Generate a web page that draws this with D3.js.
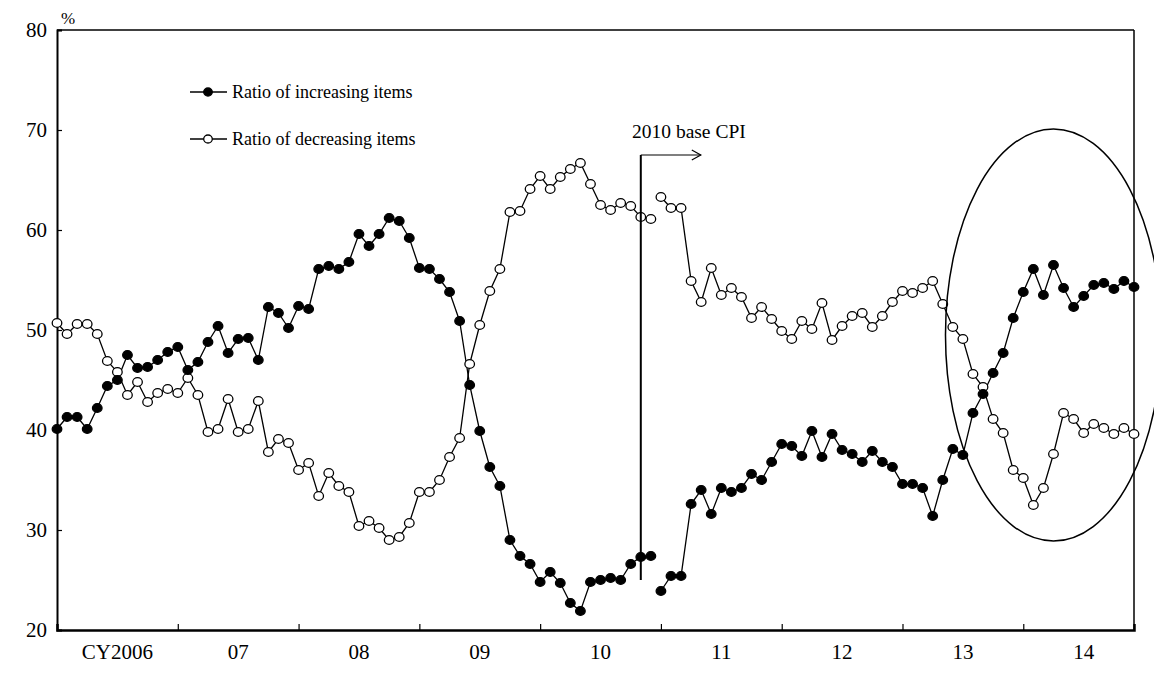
<!DOCTYPE html>
<html>
<head>
<meta charset="utf-8">
<script src="https://cdn.jsdelivr.net/npm/d3@7"></script>
<style>
  html, body { margin: 0; padding: 0; background: #fff; }
  svg { display: block; }
  text { font-family: "Liberation Serif", "Times New Roman", serif; fill: #000; }
</style>
</head>
<body>
<svg id="chart" width="1154" height="677"></svg>
<script>
// ---- Data ----
const yearLabels = ["CY2006", "07", "08", "09", "10", "11", "12", "13", "14"];
const years = [2006, 2007, 2008, 2009, 2010, 2011, 2012, 2013, 2014];
const yTicks = [20, 30, 40, 50, 60, 70, 80];

// 2005-base CPI: Jan 2006 - Dec 2010
const increasingOld = [40.1, 41.3, 41.3, 40.1, 42.2, 44.4, 45.0, 47.5, 46.2, 46.3, 47.0, 47.8,
  48.3, 46.0, 46.8, 48.8, 50.4, 47.7, 49.1, 49.2, 47.0, 52.3, 51.7, 50.2,
  52.4, 52.1, 56.1, 56.4, 56.1, 56.8, 59.6, 58.4, 59.6, 61.2, 60.9, 59.2,
  56.2, 56.1, 55.1, 53.8, 50.9, 44.5, 39.9, 36.3, 34.4, 29.0, 27.4, 26.6,
  24.8, 25.8, 24.7, 22.7, 21.9, 24.8, 25.0, 25.2, 25.0, 26.6, 27.3, 27.4];
const decreasingOld = [50.7, 49.6, 50.6, 50.6, 49.6, 46.9, 45.8, 43.5, 44.8, 42.8, 43.7, 44.1,
  43.7, 45.2, 43.5, 39.8, 40.1, 43.1, 39.8, 40.1, 42.9, 37.8, 39.1, 38.7,
  36.0, 36.7, 33.4, 35.7, 34.4, 33.8, 30.4, 30.9, 30.2, 29.0, 29.3, 30.7,
  33.8, 33.8, 35.0, 37.3, 39.2, 46.6, 50.5, 53.9, 56.1, 61.8, 61.9, 64.1,
  65.4, 64.1, 65.3, 66.1, 66.7, 64.6, 62.5, 62.0, 62.7, 62.4, 61.3, 61.1];
// 2010-base CPI: Jan 2011 - Dec 2014
const increasingNew = [23.9, 25.4, 25.4, 32.6, 34.0, 31.6, 34.2, 33.8, 34.2, 35.6, 35.0, 36.8,
  38.6, 38.4, 37.4, 39.9, 37.3, 39.6, 38.0, 37.6, 36.8, 37.9, 36.8, 36.3,
  34.6, 34.6, 34.2, 31.4, 35.0, 38.1, 37.5, 41.7, 43.6, 45.7, 47.7, 51.2,
  53.8, 56.1, 53.5, 56.5, 54.2, 52.3, 53.4, 54.5, 54.7, 54.1, 54.9, 54.3];
const decreasingNew = [63.3, 62.2, 62.2, 54.9, 52.8, 56.2, 53.5, 54.2, 53.3, 51.2, 52.3, 51.1,
  49.9, 49.1, 50.9, 50.1, 52.7, 49.0, 50.4, 51.4, 51.7, 50.3, 51.4, 52.8,
  53.9, 53.7, 54.2, 54.9, 52.6, 50.3, 49.1, 45.6, 44.3, 41.1, 39.7, 36.0,
  35.2, 32.5, 34.2, 37.6, 41.7, 41.1, 39.7, 40.6, 40.2, 39.6, 40.2, 39.6];

const seriesNames = ["Ratio of increasing items", "Ratio of decreasing items"];
const annotationText = "2010 base CPI";
const breakMonth = "2010-11";

// ---- Build monthly categories ----
const months = [];
years.forEach(yy => { for (let m = 1; m <= 12; m++) months.push(yy + "-" + String(m).padStart(2, "0")); });
const toPoints = (vals, startIdx) => vals.map((v, i) => ({ m: months[startIdx + i], v }));
const oldStart = 0, newStart = months.indexOf("2011-01");

const svg = d3.select("#chart");
const pL = 57, pR = 1134, pT = 30, pB = 630;

const x = d3.scalePoint().domain(months).range([pL, pR]).padding(0);
const y = d3.scaleLinear().domain([20, 80]).range([pB, pT]);

// frame top & right
svg.append("line").attr("x1", pL).attr("x2", pR).attr("y1", pT).attr("y2", pT)
  .attr("stroke", "#000").attr("stroke-width", 1.5);
svg.append("line").attr("x1", pR).attr("x2", pR).attr("y1", pT).attr("y2", pB)
  .attr("stroke", "#000").attr("stroke-width", 1.5);

// Y axis
const yAxis = svg.append("g").attr("transform", `translate(${pL},0)`)
  .call(d3.axisLeft(y).tickValues(yTicks).tickSize(-5).tickPadding(10).tickFormat(d3.format("d")));
yAxis.select(".domain").attr("stroke-width", 2);
yAxis.selectAll(".tick line").attr("stroke-width", 1.2);
yAxis.selectAll("text").style("font-size", "21px").attr("font-family", "Liberation Serif");

// X axis: ticks at year boundaries
const yearStarts = years.slice(1).map(yy => yy + "-01");
const xAxis = svg.append("g").attr("transform", `translate(0,${pB})`)
  .call(d3.axisBottom(x).tickValues(yearStarts).tickSize(-6).tickFormat(""));
xAxis.select(".domain").attr("stroke-width", 2.5);
xAxis.selectAll(".tick line").attr("stroke-width", 1.2);

// Year labels centred in each year span
const step = x.step();
svg.append("g").selectAll("text").data(years).join("text")
  .attr("x", d => x(d + "-01") + step * 6)
  .attr("y", 652).attr("text-anchor", "middle").attr("dominant-baseline", "central")
  .style("font-size", "21px").text((d, i) => yearLabels[i]);

// % label
svg.append("text").attr("x", 61).attr("y", 24).style("font-size", "17px").text("%");

// Lines & markers
const line = d3.line().x(d => x(d.m)).y(d => y(d.v));
const groups = [
  { pts: toPoints(decreasingOld, oldStart), fill: "#fff" },
  { pts: toPoints(decreasingNew, newStart), fill: "#fff" },
  { pts: toPoints(increasingOld, oldStart), fill: "#000" },
  { pts: toPoints(increasingNew, newStart), fill: "#000" }
];
groups.forEach(g => {
  svg.append("path").datum(g.pts).attr("d", line)
    .attr("fill", "none").attr("stroke", "#000").attr("stroke-width", 1.3);
});
groups.forEach(g => {
  svg.append("g").selectAll("ellipse").data(g.pts).join("ellipse")
    .attr("cx", d => x(d.m)).attr("cy", d => y(d.v))
    .attr("rx", 4.8).attr("ry", 4.4)
    .attr("fill", g.fill).attr("stroke", "#000").attr("stroke-width", 1.3);
});

// Legend
const legendRows = [{ y: 92, fill: "#000" }, { y: 139, fill: "#fff" }];
legendRows.forEach((r, i) => {
  svg.append("line").attr("x1", 190).attr("x2", 227).attr("y1", r.y).attr("y2", r.y)
    .attr("stroke", "#000").attr("stroke-width", 1.3);
  svg.append("ellipse").attr("cx", 208).attr("cy", r.y).attr("rx", 4.3).attr("ry", 4)
    .attr("fill", r.fill).attr("stroke", "#000").attr("stroke-width", 1.3);
  svg.append("text").attr("x", 232).attr("y", r.y).attr("dominant-baseline", "central")
    .style("font-size", "18px").text(seriesNames[i]);
});

// Base-change annotation
const bx = x(breakMonth);
svg.append("line").attr("x1", bx).attr("x2", bx).attr("y1", 155).attr("y2", 580)
  .attr("stroke", "#000").attr("stroke-width", 2);
svg.append("line").attr("x1", bx).attr("x2", bx + 60).attr("y1", 155).attr("y2", 155)
  .attr("stroke", "#000").attr("stroke-width", 1.2);
svg.append("path").attr("d", `M${bx + 51},150 L${bx + 60},155 L${bx + 51},160`)
  .attr("fill", "none").attr("stroke", "#000").attr("stroke-width", 1.2);
svg.append("text").attr("x", 632).attr("y", 131).attr("dominant-baseline", "central")
  .style("font-size", "19.5px").text(annotationText);

// Ellipse highlight around 2013-14
svg.append("ellipse").attr("cx", x("2014-04")).attr("cy", y(49.5)).attr("rx", 108).attr("ry", 206)
  .attr("fill", "none").attr("stroke", "#000").attr("stroke-width", 1.5);
</script>
</body>
</html>
